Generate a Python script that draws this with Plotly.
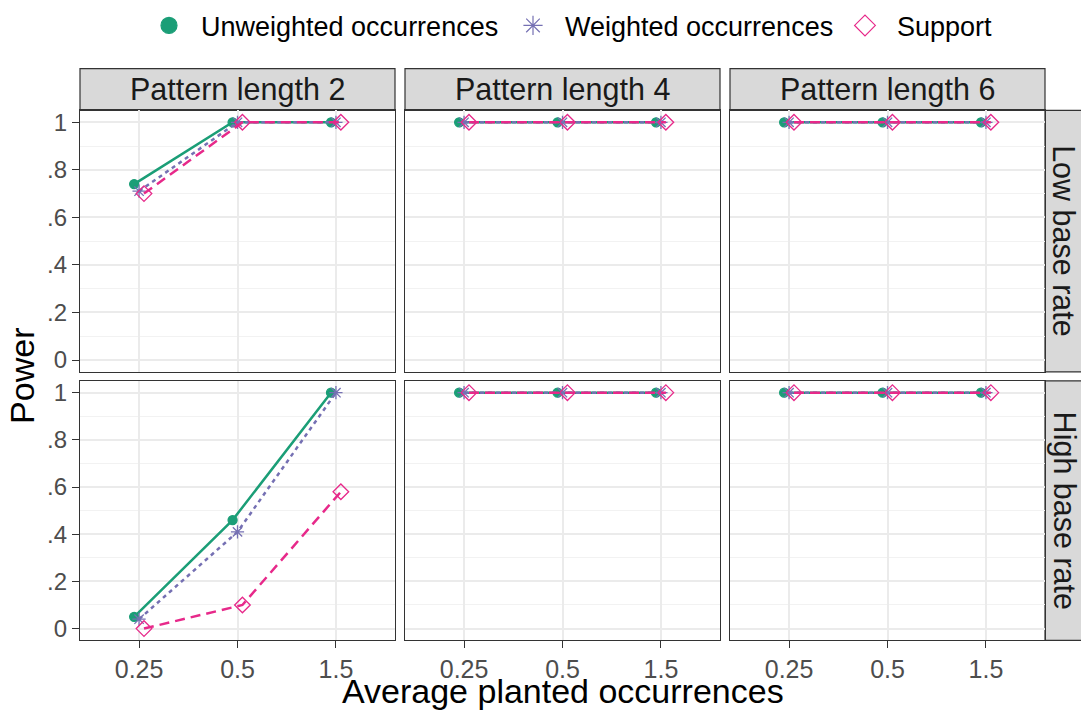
import plotly.graph_objects as go
from plotly.subplots import make_subplots

# ---- data ----
categories = ["0.25", "0.5", "1.5"]
pattern_lengths = ["Pattern length 2", "Pattern length 4", "Pattern length 6"]
base_rates = ["Low base rate", "High base rate"]
series_names = ["Unweighted occurrences", "Weighted occurrences", "Support"]

low_pl2_unweighted = [0.74, 1.00, 1.00]
low_pl2_weighted = [0.71, 1.00, 1.00]
low_pl2_support = [0.70, 1.00, 1.00]
low_pl4_unweighted = [1.00, 1.00, 1.00]
low_pl4_weighted = [1.00, 1.00, 1.00]
low_pl4_support = [1.00, 1.00, 1.00]
low_pl6_unweighted = [1.00, 1.00, 1.00]
low_pl6_weighted = [1.00, 1.00, 1.00]
low_pl6_support = [1.00, 1.00, 1.00]

high_pl2_unweighted = [0.05, 0.46, 1.00]
high_pl2_weighted = [0.04, 0.41, 1.00]
high_pl2_support = [0.00, 0.10, 0.58]
high_pl4_unweighted = [1.00, 1.00, 1.00]
high_pl4_weighted = [1.00, 1.00, 1.00]
high_pl4_support = [1.00, 1.00, 1.00]
high_pl6_unweighted = [1.00, 1.00, 1.00]
high_pl6_weighted = [1.00, 1.00, 1.00]
high_pl6_support = [1.00, 1.00, 1.00]

y_ticks = [0, 0.2, 0.4, 0.6, 0.8, 1.0]
y_ticklabels = ["0", ".2", ".4", ".6", ".8", "1"]

grid = [
    [[low_pl2_unweighted, low_pl2_weighted, low_pl2_support],
     [low_pl4_unweighted, low_pl4_weighted, low_pl4_support],
     [low_pl6_unweighted, low_pl6_weighted, low_pl6_support]],
    [[high_pl2_unweighted, high_pl2_weighted, high_pl2_support],
     [high_pl4_unweighted, high_pl4_weighted, high_pl4_support],
     [high_pl6_unweighted, high_pl6_weighted, high_pl6_support]],
]

# ---- styles ----
colors = ["#1b9e77", "#7570b3", "#e7298a"]
dashes = ["solid", "4px,4px", "10px,6px"]
symbols = ["circle", "asterisk-open", "diamond-open"]
msizes = [9, 11, 12]
legend_sizes = [16, 16, 16]
dodge = [-0.05, 0.0, 0.05]

W, H = 1081, 711
col_px = [(80, 395), (405, 720), (730, 1045)]
row_px = [(109, 372), (381, 642)]
strip_top = 67
right_strip = (1045, 1085)
legend_symbol_px = [169, 533, 865]

fig = make_subplots(rows=2, cols=3)

for r in range(2):
    for c in range(3):
        for s in range(3):
            vals = grid[r][c][s]
            xs = [i + 1 + dodge[s] for i in range(len(categories))]
            fig.add_trace(go.Scatter(
                x=xs, y=vals, mode="lines+markers",
                line=dict(color=colors[s], width=2.5, dash=dashes[s]),
                marker=dict(symbol=symbols[s], size=msizes[s], color=colors[s],
                            line=dict(color=colors[s], width=1.3)),
                showlegend=False, name=series_names[s], cliponaxis=False,
            ), row=r + 1, col=c + 1)

font_family = "Liberation Sans, Arial, sans-serif"
legend_names = ["legend", "legend2", "legend3"]

# legend-only traces, one legend each so spacing can match
for s in range(3):
    fig.add_trace(go.Scatter(
        x=[None], y=[None], mode="markers", name=series_names[s],
        marker=dict(symbol=symbols[s], size=legend_sizes[s], color=colors[s],
                    line=dict(color=colors[s], width=1.2)),
        showlegend=True, legend=legend_names[s],
    ), row=1, col=1)

axis_common = dict(showline=True, mirror=True, linecolor="#333333", linewidth=1.2,
                   gridcolor="#ebebeb", gridwidth=1.6, zeroline=False,
                   ticks="outside", ticklen=7, tickcolor="#333333", tickwidth=1.2)

for r in range(2):
    for c in range(3):
        idx = r * 3 + c + 1
        xa = "xaxis" if idx == 1 else f"xaxis{idx}"
        ya = "yaxis" if idx == 1 else f"yaxis{idx}"
        x0, x1 = col_px[c]
        y0, y1 = row_px[r]
        fig.layout[xa].update(
            domain=[x0 / W, x1 / W], range=[0.4, 3.6],
            tickvals=[1, 2, 3], ticktext=categories,
            showticklabels=(r == 1),
            tickfont=dict(family=font_family, size=25, color="#4d4d4d"),
            **axis_common)
        if r == 0:
            fig.layout[xa].update(ticks="")
        fig.layout[ya].update(
            domain=[1 - y1 / H, 1 - y0 / H], range=[-0.05, 1.05],
            tickvals=y_ticks, ticktext=y_ticklabels,
            showticklabels=(c == 0),
            tickfont=dict(family=font_family, size=24, color="#4d4d4d"),
            minor=dict(tickvals=[0.1, 0.3, 0.5, 0.7, 0.9], showgrid=True,
                       gridcolor="#f2f2f2", gridwidth=1.0, ticks=""),
            **axis_common)
        if c != 0:
            fig.layout[ya].update(ticks="")

shapes = []
annotations = []
strip_font = dict(family=font_family, size=30.5, color="#1a1a1a")
for c in range(3):
    x0, x1 = col_px[c]
    shapes.append(dict(type="rect", xref="paper", yref="paper",
                       x0=x0 / W, x1=x1 / W, y0=1 - row_px[0][0] / H, y1=1 - strip_top / H,
                       fillcolor="#d9d9d9", line=dict(color="#333333", width=1.2), layer="below"))
    annotations.append(dict(text=pattern_lengths[c], xref="paper", yref="paper",
                            x=(x0 + x1) / 2 / W, y=1 - (strip_top + row_px[0][0]) / 2 / H,
                            showarrow=False, font=strip_font, xanchor="center", yanchor="middle"))
for r in range(2):
    y0, y1 = row_px[r]
    shapes.append(dict(type="rect", xref="paper", yref="paper",
                       x0=right_strip[0] / W, x1=right_strip[1] / W, y0=1 - y1 / H, y1=1 - y0 / H,
                       fillcolor="#d9d9d9", line=dict(color="#333333", width=1.2), layer="below"))
    annotations.append(dict(text=base_rates[r], xref="paper", yref="paper",
                            x=1064 / W, y=1 - (y0 + y1) / 2 / H, textangle=90,
                            showarrow=False, font=strip_font, xanchor="center", yanchor="middle"))

title_font = dict(family=font_family, size=34, color="#000000")
annotations.append(dict(text="Average planted occurrences", xref="paper", yref="paper",
                        x=(80 + 1045) / 2 / W, y=1 - 693 / H, showarrow=False,
                        font=title_font, xanchor="center", yanchor="middle"))
annotations.append(dict(text="Power", xref="paper", yref="paper",
                        x=22 / W, y=1 - 376 / H, showarrow=False, textangle=-90,
                        font=title_font, xanchor="center", yanchor="middle"))

legend_font = dict(family=font_family, size=27, color="#000000")
iw = 54
layout_legends = {}
for s in range(3):
    layout_legends[legend_names[s]] = dict(
        orientation="h", x=(legend_symbol_px[s] - iw / 2 - 5) / W, xanchor="left",
        y=1 - 24 / H, yanchor="middle", font=legend_font, itemwidth=iw,
        bgcolor="rgba(0,0,0,0)", borderwidth=0)

fig.update_layout(
    width=W, height=H,
    margin=dict(l=0, r=0, t=0, b=0),
    paper_bgcolor="white", plot_bgcolor="white",
    shapes=shapes, annotations=annotations,
    font=dict(family=font_family),
    **layout_legends,
)

fig.write_html("out.html")
